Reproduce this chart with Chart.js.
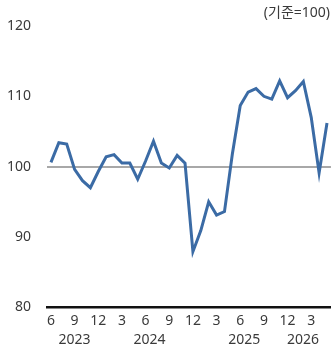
<!DOCTYPE html>
<html>
<head>
<meta charset="utf-8">
<script src="https://cdn.jsdelivr.net/npm/chart.js@4/dist/chart.umd.min.js"></script>
<style>
  html, body { margin: 0; padding: 0; background: #fff; }
  #wrap { width: 332px; height: 347px; position: relative; }
</style>
</head>
<body>
<div id="wrap"><canvas id="c"></canvas></div>
<script>
// Month labels (June 2023 .. May 2026)
const months = [6,7,8,9,10,11,12,1,2,3,4,5,6,7,8,9,10,11,12,1,2,3,4,5,6,7,8,9,10,11,12,1,2,3,4,5];
const years  = [2023,2023,2023,2023,2023,2023,2023,2024,2024,2024,2024,2024,2024,2024,2024,2024,2024,2024,2024,2025,2025,2025,2025,2025,2025,2025,2025,2025,2025,2025,2025,2026,2026,2026,2026,2026];
const values = [100.6,103.4,103.2,99.6,98.0,97.0,99.3,101.4,101.7,100.5,100.5,98.2,
                100.8,103.6,100.5,99.8,101.6,100.5,87.9,90.9,95.0,93.1,93.6,101.8,
                108.7,110.6,111.1,110.0,109.6,112.2,109.8,110.8,112.1,107.0,99.1,106.2];
const yTicks = [80, 90, 100, 110, 120];
const unitLabel = '(기준=100)';
const baseline = 100;

const FONT = "'Noto Sans', 'Noto Sans CJK KR', sans-serif";
const TXT = '#3a3a3a';

const extras = {
  id: 'extras',
  afterDraw(chart) {
    const ctx = chart.ctx;
    const x = chart.scales.x;
    const area = chart.chartArea;
    ctx.save();
    ctx.fillStyle = TXT;
    ctx.font = '14px ' + FONT;
    ctx.textAlign = 'center';
    ctx.textBaseline = 'middle';
    const uniq = [...new Set(years)];
    uniq.forEach(yr => {
      const first = years.indexOf(yr);
      const last = years.lastIndexOf(yr);
      let cx = (x.getPixelForValue(first) + x.getPixelForValue(last)) / 2;
      const w = ctx.measureText(String(yr)).width;
      cx = Math.min(cx, area.right - w / 2 - 12);
      ctx.fillText(String(yr), cx, 340);
    });
    ctx.font = '14px ' + FONT;
    ctx.textAlign = 'right';
    ctx.fillText(unitLabel, 330, 13);
    ctx.restore();
  }
};

new Chart(document.getElementById('c'), {
  type: 'line',
  data: {
    labels: months.map(String),
    datasets: [{
      data: values,
      borderColor: '#3b6ba5',
      borderWidth: 3,
      pointRadius: 0,
      tension: 0,
      fill: false
    }]
  },
  options: {
    responsive: true,
    maintainAspectRatio: false,
    animation: false,
    layout: { padding: { top: 26, left: 7, right: 0, bottom: 13 } },
    plugins: { legend: { display: false }, tooltip: { enabled: false } },
    scales: {
      x: {
        offset: true,
        grid: { display: false, drawTicks: false },
        border: { display: true, color: '#111', width: 2.5 },
        ticks: {
          autoSkip: false,
          maxRotation: 0,
          padding: 5,
          color: TXT,
          font: { family: FONT, size: 14 },
          callback: (v, i) => (i % 3 === 0 ? months[i] : '')
        }
      },
      y: {
        min: 80, max: 120,
        afterBuildTicks: s => { s.ticks = yTicks.map(v => ({ value: v })); },
        afterFit: s => { s.width = 40; },
        grid: {
          drawTicks: false,
          color: c => (c.tick && c.tick.value === baseline ? '#a8a8a8' : 'rgba(0,0,0,0)'),
          lineWidth: 2
        },
        border: { display: false },
        ticks: {
          padding: 16,
          color: TXT,
          font: { family: FONT, size: 14 }
        }
      }
    }
  },
  plugins: [extras]
});
</script>
</body>
</html>
